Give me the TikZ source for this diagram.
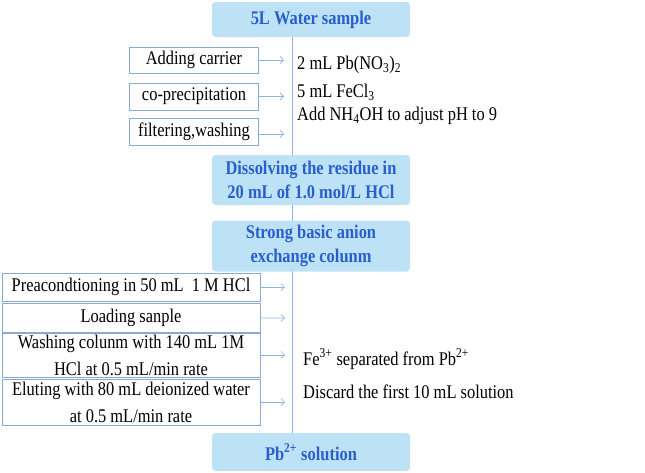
\documentclass[tikz,border=0pt]{standalone}
\usepackage{fontspec}
\setmainfont{Liberation Serif}
\newfontfamily\tallserif[FakeStretch=0.85]{Liberation Serif}
\usetikzlibrary{arrows.meta}
\definecolor{boxfill}{RGB}{190,226,245}
\definecolor{boxtext}{RGB}{40,95,205}
\definecolor{flowline}{RGB}{140,180,232}
\tikzset{
  mainbox/.style={fill=boxfill, rounded corners=3pt, font=\tallserif\fontsize{16.5}{20}\selectfont\bfseries, text=boxtext, align=center, inner sep=0pt},
  stepbox/.style={draw=flowline!80!gray, line width=0.6pt, font=\tallserif\fontsize{16.5}{23}\selectfont, align=center, inner sep=0pt},
  note/.style={anchor=west, font=\tallserif\fontsize{16.5}{18}\selectfont, inner sep=0pt},
  feed/.style={draw=flowline, -{Straight Barb[length=3pt]}, line width=0.6pt}
}
\begin{document}
\begin{tikzpicture}[x=0.03cm,y=-0.03cm]
  \useasboundingbox (0,0) rectangle (645,472);
  % main column
  \draw[flowline, line width=0.8pt] (292,37) -- (292,433);
  \node[mainbox, minimum width=198*0.03cm, minimum height=35*0.03cm] (sample) at (311,19.5) {5L Water sample};
  \node[mainbox, minimum width=198*0.03cm, minimum height=50*0.03cm] (dissolve) at (311,180) {Dissolving the residue in\\20 mL of 1.0 mol/L HCl};
  \node[mainbox, minimum width=198*0.03cm, minimum height=51*0.03cm] (column) at (311,246) {Strong basic anion\\exchange colunm};
  \node[mainbox, minimum width=198*0.03cm, minimum height=38*0.03cm] (product) at (311,452) {Pb\textsuperscript{2+} solution};

  % co-precipitation steps
  \node[stepbox, minimum width=129*0.03cm, minimum height=26*0.03cm] (carrier) at (194,60) {Adding carrier};
  \node[stepbox, minimum width=129*0.03cm, minimum height=27*0.03cm] (coprec) at (194,96.5) {co-precipitation};
  \node[stepbox, minimum width=129*0.03cm, minimum height=27*0.03cm] (filter) at (194,131.5) {filtering,washing};
  \coordinate (c1) at (284,60);
  \coordinate (c2) at (284,96.5);
  \coordinate (c3) at (284,134);
  \draw[feed] (carrier) -- (c1);
  \draw[feed] (coprec) -- (c2);
  \draw[feed] ([yshift=-2.5*0.03cm]filter.east) -- (c3);
  \node[note] (pbn) at (297,65) {2 mL Pb(NO\textsubscript{3})\textsubscript{2}};
  \node[note] (fecl) at (297,92) {5 mL FeCl\textsubscript{3}};
  \node[note] (nh4) at (297,116) {Add NH\textsubscript{4}OH to adjust pH to 9};

  % column steps
  \node[stepbox, minimum width=258*0.03cm, minimum height=28*0.03cm] (precond) at (131,287) {Preacondtioning in 50 mL\ \ 1 M HCl};
  \node[stepbox, minimum width=258*0.03cm, minimum height=29*0.03cm] (load) at (131,317.5) {Loading sanple};
  \node[stepbox, minimum width=258*0.03cm, minimum height=44*0.03cm] (wash) at (131,355) {Washing colunm with 140 mL 1M\\HCl at 0.5 mL/min rate};
  \node[stepbox, minimum width=258*0.03cm, minimum height=46*0.03cm] (elute) at (131,402) {Eluting with 80 mL deionized water\\at 0.5 mL/min rate};
  \coordinate (d1) at (285,287);
  \coordinate (d2) at (285,318);
  \coordinate (d3) at (285,355);
  \coordinate (d4) at (285,402);
  \draw[feed] (precond) -- (d1);
  \draw[feed] (load) -- (d2);
  \draw[feed] (wash) -- (d3);
  \draw[feed] (elute) -- (d4);
  \node[note] (sep) at (303,359) {Fe\textsuperscript{3+} separated from Pb\textsuperscript{2+}};
  \node[note] (discard) at (303,392) {Discard the first 10 mL solution};
\end{tikzpicture}
\end{document}
